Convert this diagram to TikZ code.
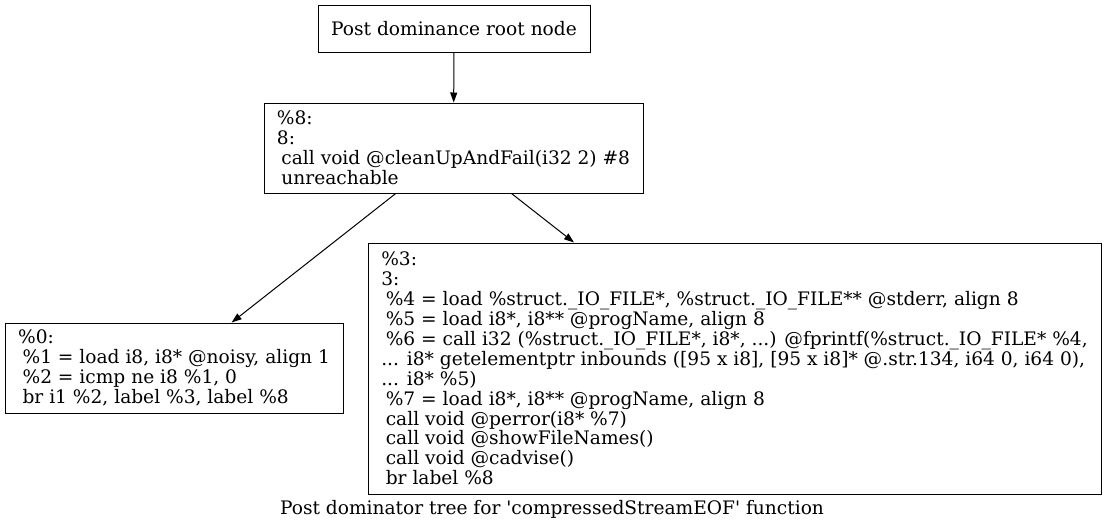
\documentclass[tikz,border=0pt]{standalone}
\usepackage{fontspec}
\setmainfont{DejaVu Serif}
\usetikzlibrary{arrows.meta,positioning}

\newcommand{\indt}{\hspace*{4.5pt}}
\tikzset{
  blk/.style={draw, line width=1pt, align=left, inner sep=0pt, font=\fontsize{18.6}{19.9}\selectfont},
  edge/.style={-{Triangle[length=10pt,width=7pt]}, line width=1pt},
}

\begin{document}
\begin{tikzpicture}
    \useasboundingbox (0,0) rectangle (1106pt,-531pt);
    \node at (454pt,-28.5pt) [blk, minimum width=272pt, minimum height=47pt](root){Post dominance root node};
    \node at (root) [blk, xshift=-0.5pt, yshift=-119.5pt, minimum width=379pt, minimum height=90pt](bb8){\%8:\\
      8:\\
      \indt call void @cleanUpAndFail(i32 2) \#8\\
      \indt unreachable};
    \node at (bb8) [blk, xshift=-279.5pt, yshift=-220pt, minimum width=338pt, minimum height=90pt](bb0){\%0:\\
      \indt \%1 = load i8, i8* @noisy, align 1\\
      \indt \%2 = icmp ne i8 \%1, 0\\
      \indt br i1 \%2, label \%3, label \%8};
    \node at (bb8) [blk, xshift=281pt, yshift=-220.5pt, minimum width=733pt, minimum height=251pt](bb3){\%3:\\
      3:\\
      \indt \%4 = load \%struct.\_IO\_FILE*, \%struct.\_IO\_FILE** @stderr, align 8\\
      \indt \%5 = load i8*, i8** @progName, align 8\\
      \indt \%6 = call i32 (\%struct.\_IO\_FILE*, i8*, ...) @fprintf(\%struct.\_IO\_FILE* \%4,\\
      ... i8* getelementptr inbounds ([95 x i8], [95 x i8]* @.str.134, i64 0, i64 0),\\
      ... i8* \%5)\\
      \indt \%7 = load i8*, i8** @progName, align 8\\
      \indt call void @perror(i8* \%7)\\
      \indt call void @showFileNames()\\
      \indt call void @cadvise()\\
      \indt br label \%8};
    \node at (bb8) [xshift=98.5pt, yshift=-361pt, font=\fontsize{18.6}{19.9}\selectfont](cap){Post dominator tree for \textquotesingle compressedStreamEOF\textquotesingle{} function};

    %% Edges
    \draw [edge] (root) -- (bb8);
    \draw [edge] (bb8) -- (bb0);
    \draw [edge] (bb8) -- (bb3);
\end{tikzpicture}
\end{document}
